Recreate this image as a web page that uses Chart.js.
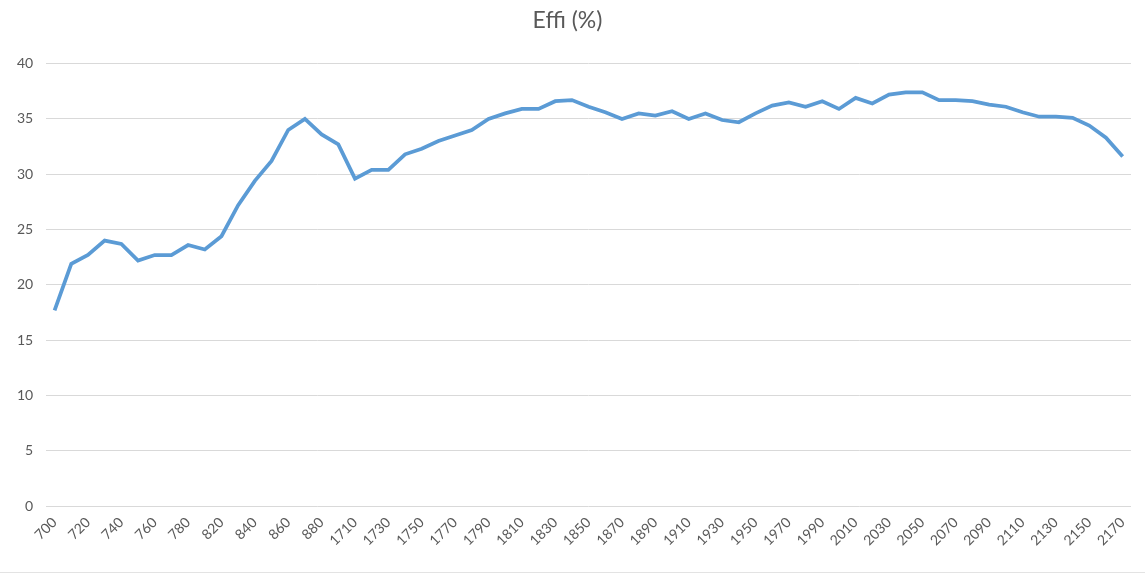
<!DOCTYPE html>
<html>
<head>
<meta charset="utf-8">
<script src="https://cdn.jsdelivr.net/npm/chart.js@4/dist/chart.umd.min.js"></script>
<style>
  html, body { margin: 0; padding: 0; background: #fff; overflow: hidden; }
  #wrap { width: 1145px; height: 574px; position: relative; }
  #frame { position: absolute; left: 0; top: 572px; width: 1145px; height: 1px; background: #e3e3e3; }
</style>
</head>
<body>
<div id="wrap"><canvas id="myChart" width="1145" height="574"></canvas><div id="frame"></div></div>
<script>
// -------- Data --------
const categories = [
  700, 710, 720, 730, 740, 750, 760, 770, 780, 800,
  820, 830, 840, 850, 860, 870, 880, 890,
  1710, 1720, 1730, 1740, 1750, 1760, 1770, 1780, 1790, 1800,
  1810, 1820, 1830, 1840, 1850, 1860, 1870, 1880, 1890, 1900,
  1910, 1920, 1930, 1940, 1950, 1960, 1970, 1980, 1990, 2000,
  2010, 2020, 2030, 2040, 2050, 2060, 2070, 2080, 2090, 2100,
  2110, 2120, 2130, 2140, 2150, 2160, 2170
];

const effi = [
  17.7, 21.9, 22.7, 24.0, 23.7, 22.2, 22.7, 22.7, 23.6, 23.2,
  24.4, 27.2, 29.4, 31.2, 34.0, 35.0, 33.6, 32.7,
  29.6, 30.4, 30.4, 31.8, 32.3, 33.0, 33.5, 34.0, 35.0, 35.5,
  35.9, 35.9, 36.6, 36.7, 36.1, 35.6, 35.0, 35.5, 35.3, 35.7,
  35.0, 35.5, 34.9, 34.7, 35.5, 36.2, 36.5, 36.1, 36.6, 35.9,
  36.9, 36.4, 37.2, 37.4, 37.4, 36.7, 36.7, 36.6, 36.3, 36.1,
  35.6, 35.2, 35.2, 35.1, 34.4, 33.3, 31.6
];

const yTicks = { min: 0, max: 40, step: 5 };

// -------- Plot --------
const textColor = '#595959';
const gridColor = '#d9d9d9';
const ctx = document.getElementById('myChart').getContext('2d');

new Chart(ctx, {
  type: 'line',
  data: {
    labels: categories,
    datasets: [
      {
        label: 'Effi (%)',
        data: effi,
        borderColor: '#5b9bd5',
        borderWidth: 3.75,
        pointRadius: 0,
        tension: 0,
        fill: false
      }
    ]
  },
  options: {
    responsive: false,
    animation: false,
    layout: { padding: { left: 4, right: 14, top: 4, bottom: 17 } },
    plugins: {
      legend: { display: false },
      tooltip: { enabled: false },
      title: {
        display: true,
        text: 'Effi (%)',
        color: textColor,
        font: { family: 'Lato', size: 23, weight: 'normal' },
        padding: { top: 3, bottom: 29 }
      }
    },
    scales: {
      x: {
        offset: true,
        grid: { display: false, drawTicks: false },
        border: { display: false },
        ticks: {
          autoSkip: false,
          maxRotation: 45,
          minRotation: 45,
          color: textColor,
          font: { family: 'Lato', size: 14 },
          padding: 8,
          callback: (v, i) => (i % 2 === 0 ? categories[i] : '')
        }
      },
      y: {
        min: yTicks.min,
        max: yTicks.max,
        grid: { color: gridColor, lineWidth: 1, drawTicks: false },
        border: { display: false },
        ticks: {
          stepSize: yTicks.step,
          color: textColor,
          font: { family: 'Lato', size: 14 },
          padding: 13
        }
      }
    }
  }
});
</script>
</body>
</html>
